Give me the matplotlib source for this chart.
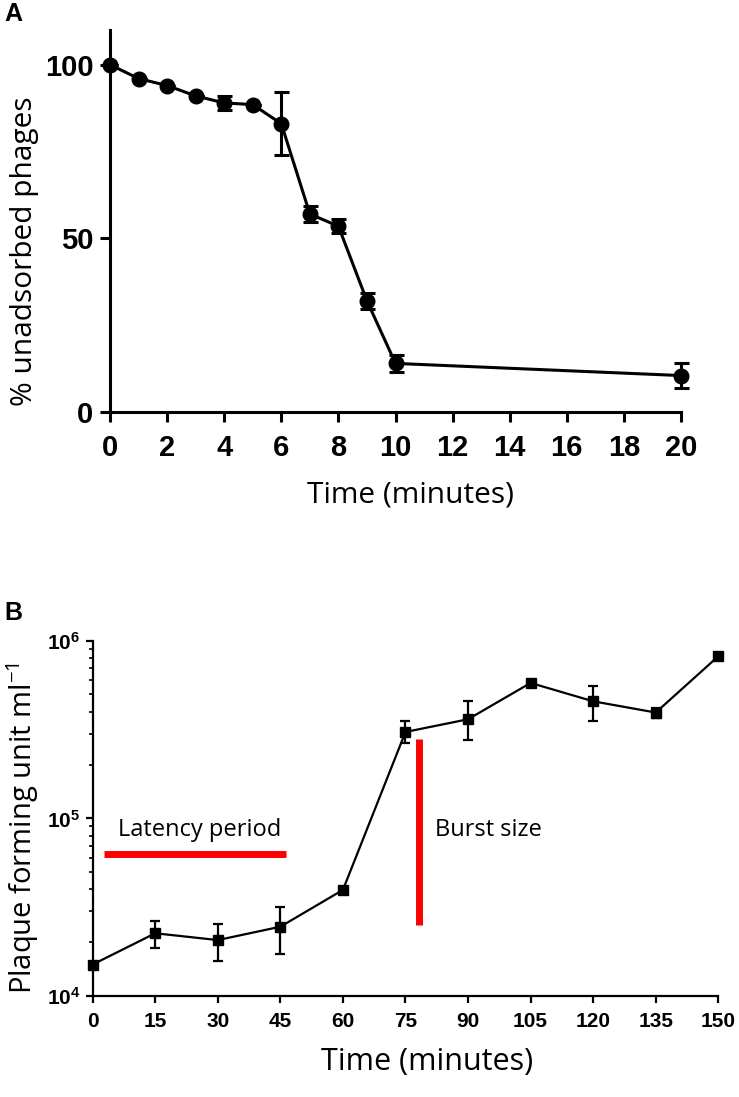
import numpy as np
import matplotlib
matplotlib.use("Agg")
import matplotlib.pyplot as plt
from matplotlib.ticker import LogLocator, FixedLocator, NullFormatter

plt.rcParams['mathtext.fontset'] = 'custom'
plt.rcParams['mathtext.rm'] = 'Open Sans'
plt.rcParams['mathtext.bf'] = 'Liberation Sans:bold'

# Panel A: adsorption
time_a = [0, 1, 2, 3, 4, 5, 6, 7, 8, 9, 10, 20]
unadsorbed = [100, 96, 94, 91, 89, 88.5, 83, 57, 53.5, 32, 14, 10.5]
unadsorbed_err = [0, 0, 0, 0, 2, 0, 9, 2.2, 2, 2.4, 2.5, 3.5]
ticks_a = [0, 2, 4, 6, 8, 10, 12, 14, 16, 18, 20]

# Panel B: one-step growth
time_b = [0, 15, 30, 45, 60, 75, 90, 105, 120, 135, 150]
pfu = [1.5e4, 2.25e4, 2.06e4, 2.45e4, 3.95e4, 3.07e5, 3.62e5, 5.8e5, 4.57e5, 3.95e5, 8.2e5]
pfu_lo = [1.5e4, 1.87e4, 1.57e4, 1.71e4, 3.95e4, 2.66e5, 2.78e5, 5.6e5, 3.52e5, 3.7e5, 8.2e5]
pfu_hi = [1.5e4, 2.64e4, 2.54e4, 3.17e4, 3.95e4, 3.53e5, 4.56e5, 6.0e5, 5.57e5, 4.2e5, 8.2e5]
ticks_b = [0, 15, 30, 45, 60, 75, 90, 105, 120, 135, 150]

# red annotation bars
latency_x = [2.8, 46.3]
latency_y = 6.27e4
burst_x = 78.2
burst_y = [2.5e4, 2.8e5]

fig = plt.figure(figsize=(7.39, 10.97), dpi=100)

# ---------- A ----------
ax1 = fig.add_axes([0.1489, 0.6244, 0.7726, 0.3483])
ax1.errorbar(time_a, unadsorbed, yerr=unadsorbed_err, color='black', marker='o',
             markersize=10.5, linewidth=2.2, elinewidth=2.2, capsize=5.4, capthick=2.2,
             clip_on=False, zorder=3)
ax1.set_xlim(0, 20)
ax1.set_ylim(0, 110)
ax1.set_xticks(ticks_a)
ax1.set_yticks([0, 50, 100])
for s in ['top', 'right']:
    ax1.spines[s].set_visible(False)
for s in ['left', 'bottom']:
    ax1.spines[s].set_linewidth(2.2)
ax1.tick_params(width=2.2, length=7)
ax1.tick_params(axis='x', pad=9)
ax1.tick_params(axis='y', pad=5)
for lab in ax1.get_xticklabels() + ax1.get_yticklabels():
    lab.set_family('Liberation Sans')
    lab.set_fontweight('bold')
    lab.set_fontsize(21)
ax1.set_xlabel('Time (minutes)', family='Open Sans', fontsize=21.5)
ax1.set_ylabel('% unadsorbed phages', family='Open Sans', fontsize=21.5)
ax1.xaxis.set_label_coords(0.527, -0.178)
ax1.yaxis.set_label_coords(-0.124, 0.42)
fig.text(0.006, 0.987, 'A', family='Liberation Sans', fontweight='bold', fontsize=18,
         va='center')

# ---------- B ----------
ax2 = fig.add_axes([0.1254, 0.0923, 0.8466, 0.3234])
ax2.plot(time_b, pfu, color='black', marker='s', markersize=7, linewidth=1.6,
         clip_on=False, zorder=3)
yerr = [np.array(pfu) - np.array(pfu_lo), np.array(pfu_hi) - np.array(pfu)]
ax2.errorbar(time_b, pfu, yerr=yerr, fmt='none', ecolor='black', elinewidth=1.6,
             capsize=3.6, capthick=1.6, clip_on=False, zorder=3)
ax2.plot(latency_x, [latency_y, latency_y], color='#ff0000', linewidth=5, solid_capstyle='butt')
ax2.plot([burst_x, burst_x], burst_y, color='#ff0000', linewidth=5, solid_capstyle='butt')
ax2.text(6, 8.6e4, 'Latency period', family='Open Sans', fontsize=17, va='center')
ax2.text(82, 8.6e4, 'Burst size', family='Open Sans', fontsize=17, va='center')
ax2.set_yscale('log')
ax2.set_xlim(0, 150)
ax2.set_ylim(1e4, 1e6)
ax2.set_xticks(ticks_b)
ax2.yaxis.set_major_locator(FixedLocator([1e4, 1e5, 1e6]))
ax2.set_yticklabels([r'$\mathbf{10^{4}}$', r'$\mathbf{10^{5}}$', r'$\mathbf{10^{6}}$'])
ax2.yaxis.set_minor_locator(LogLocator(base=10, subs=np.arange(2, 10)))
ax2.yaxis.set_minor_formatter(NullFormatter())
for s in ['top', 'right']:
    ax2.spines[s].set_visible(False)
for s in ['left', 'bottom']:
    ax2.spines[s].set_linewidth(1.6)
ax2.tick_params(which='major', width=1.6, length=5, pad=4)
ax2.tick_params(axis='x', which='major', pad=7)
ax2.tick_params(which='minor', width=1.2, length=3)
for lab in ax2.get_xticklabels():
    lab.set_family('Liberation Sans')
    lab.set_fontweight('bold')
    lab.set_fontsize(15)
for lab in ax2.get_yticklabels():
    lab.set_fontsize(15)
ax2.set_xlabel('Time (minutes)', family='Open Sans', fontsize=22)
ax2.set_ylabel('Plaque forming unit ml$^{-1}$', family='Open Sans', fontsize=21)
ax2.xaxis.set_label_coords(0.534, -0.145)
ax2.yaxis.set_label_coords(-0.082, 0.473)
fig.text(0.006, 0.441, 'B', family='Liberation Sans', fontweight='bold', fontsize=18,
         va='center')

fig.savefig('out.png', dpi=100)
